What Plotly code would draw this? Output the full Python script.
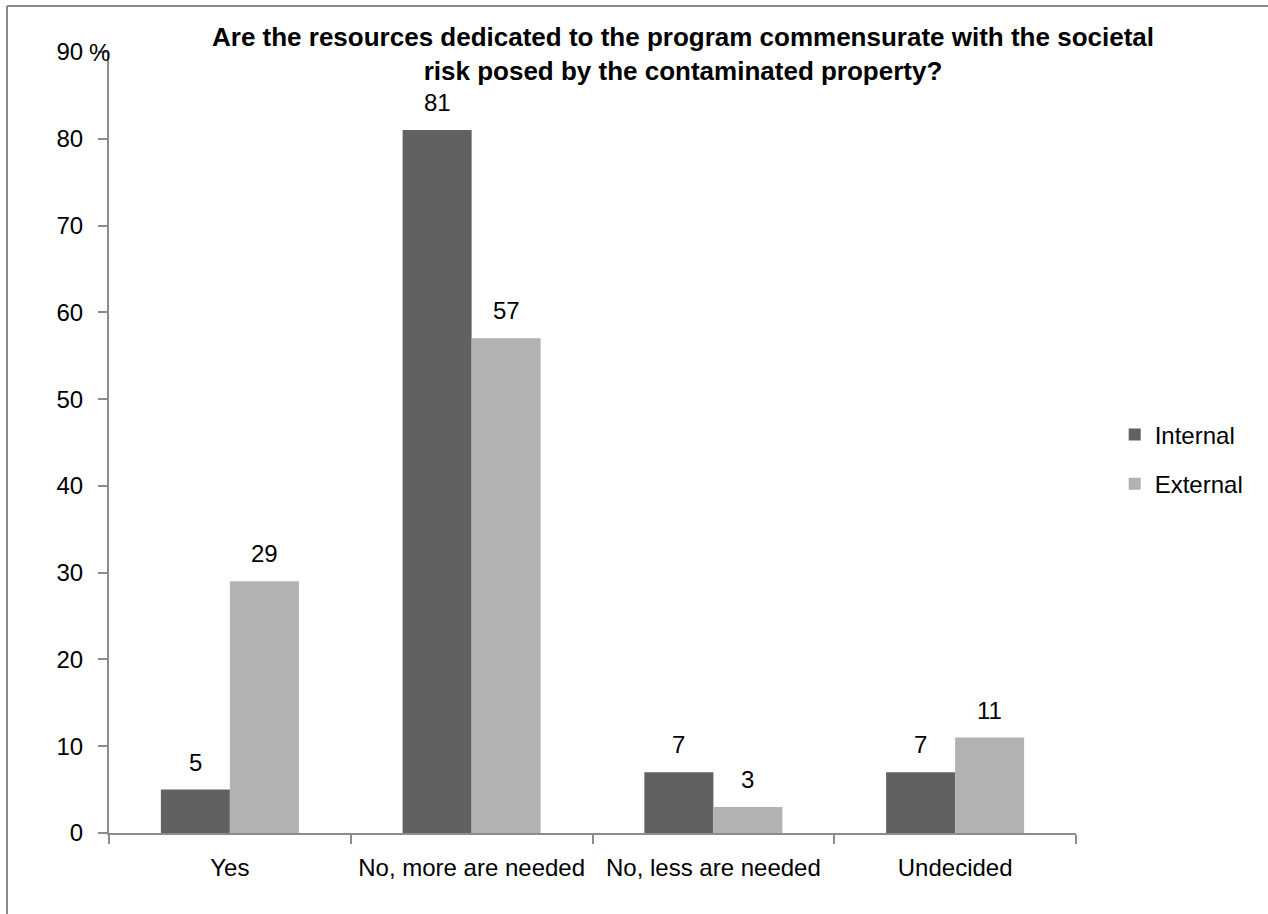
import plotly.graph_objects as go

categories = ["Yes", "No, more are needed", "No, less are needed", "Undecided"]
internal = [5, 81, 7, 7]
external = [29, 57, 3, 11]
y_ticks = [0, 10, 20, 30, 40, 50, 60, 70, 80, 90]

FONT = "Liberation Sans, Arial, sans-serif"
C_INT = "#616161"
C_EXT = "#b2b2b2"
AX = "#8c8c8c"

fig = go.Figure()
fig.add_trace(go.Bar(name="Internal", x=categories, y=internal, legendgroup="a",
                     marker=dict(color=C_INT, line=dict(width=0))))
fig.add_trace(go.Bar(name="External", x=categories, y=external, legendgroup="b",
                     marker=dict(color=C_EXT, line=dict(width=0))))

ann = []
for vals, shift in ((internal, -34.5), (external, 34.5)):
    for c, v in zip(categories, vals):
        ann.append(dict(x=c, y=v, xref="x", yref="y", text=str(v), showarrow=False,
                        xshift=shift, yshift=12, yanchor="bottom",
                        font=dict(family=FONT, size=24, color="#000")))
ann.append(dict(x=0, y=90, xref="paper", yref="y", text="%", showarrow=False,
                xanchor="center", yanchor="middle", xshift=-10,
                font=dict(family=FONT, size=24, color="#000")))

top_y = 1 + 46 / 781
left_x = -102 / 967
fig.update_layout(
    width=1268, height=914,
    margin=dict(l=109, r=192, t=52, b=81),
    paper_bgcolor="white", plot_bgcolor="white",
    barmode="group", bargap=0.429, bargroupgap=0,
    font=dict(family=FONT, size=24, color="#000"),
    title=dict(text="<b>Are the resources dedicated to the program commensurate with the societal<br>risk posed by the contaminated property?</b>",
               x=683 / 1268, xanchor="center", y=1 - 46 / 914, yanchor="top",
               font=dict(family=FONT, size=26, color="#000")),
    showlegend=True,
    legend=dict(x=1.040, xanchor="left", y=0.5 - 17 / 781, yanchor="middle",
                font=dict(family=FONT, size=24, color="#000"),
                itemwidth=30, tracegroupgap=15, bgcolor="rgba(0,0,0,0)"),
    annotations=ann,
    shapes=[
        dict(type="line", xref="paper", yref="paper", x0=left_x, x1=1.3, y0=top_y, y1=top_y,
             line=dict(color="#8a8a8a", width=2), layer="above"),
        dict(type="line", xref="paper", yref="paper", x0=left_x, x1=left_x, y0=-0.2, y1=top_y,
             line=dict(color="#8a8a8a", width=2), layer="above"),
    ],
)
fig.update_xaxes(showgrid=False, showline=True, linecolor=AX, linewidth=2,
                 ticks="outside", tickson="boundaries", ticklen=9, tickcolor=AX, tickwidth=2,
                 ticklabelstandoff=12, tickangle=0, automargin=False,
                 tickfont=dict(family=FONT, size=24, color="#000"))
fig.update_yaxes(range=[0, 90], showgrid=False, showline=True, linecolor=AX, linewidth=2,
                 tickvals=y_ticks, ticktext=[str(t) for t in y_ticks],
                 ticks="outside", ticklen=9, tickcolor=AX, tickwidth=2,
                 ticklabelstandoff=10, zeroline=False, automargin=False,
                 tickfont=dict(family=FONT, size=24, color="#000"))

fig.write_html("out.html", config={"displayModeBar": False},
               post_script="document.body.style.margin='0';")
